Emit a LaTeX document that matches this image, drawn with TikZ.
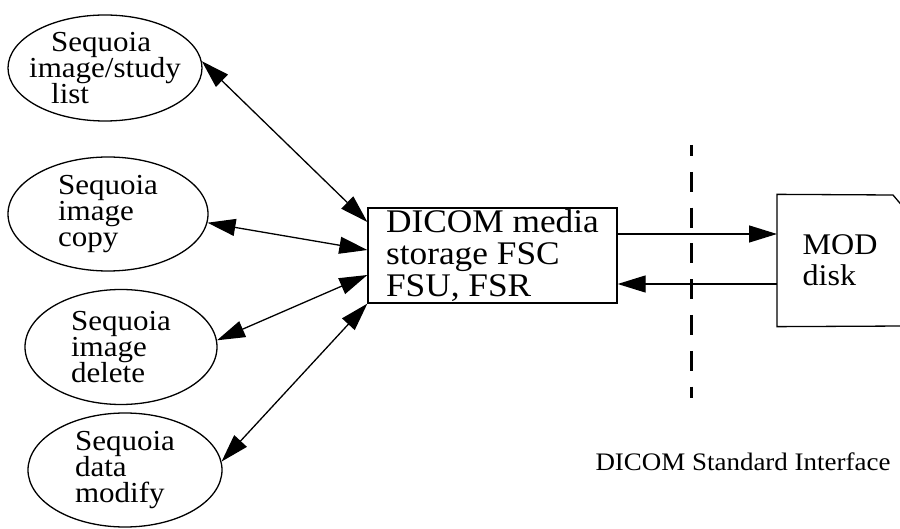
\documentclass[tikz,border=0pt]{standalone}
\usepackage{fontspec}
\setmainfont[FakeStretch=1.07]{Liberation Serif}
\usetikzlibrary{shapes.geometric,arrows.meta}
\setlength{\lineskiplimit}{-20pt}

\begin{document}
\begin{tikzpicture}[
        x=0.5pt, y=-0.5pt,
        line width=0.65pt,
        arw/.style={-{Triangle[length=14pt,width=8.5pt]}},
        dbl/.style={{Triangle[length=14pt,width=8.5pt]}-{Triangle[length=14pt,width=8.5pt]}},
        app/.style={draw, ellipse, inner sep=-10pt, align=left,
          font=\fontsize{14.5pt}{13pt}\selectfont},
        sep/.style={line width=1.5pt, dash pattern=on 10pt off 7.9pt, dash phase=4.5pt}
      ]
        % 画布范围
        \useasboundingbox (0,0) rectangle (900,529);
        \clip (0,0) rectangle (900,529);
        % 定义左侧四个椭圆
        \node[app, minimum width=97pt, minimum height=53pt] (list) at (105,68)
          {\hspace*{11pt}Sequoia\\image/study\\\hspace*{11pt}list};
        \node[app, minimum width=100pt, minimum height=57pt] (copy) at (108,214)
          {Sequoia\\image\\copy};
        \node[app, minimum width=96pt, minimum height=57.5pt] (delete) at (121,347)
          {Sequoia\\image\\delete};
        \node[app, minimum width=97pt, minimum height=57pt] (modify) at (125,470)
          {Sequoia\\data\\modify};
        % 定义中间矩形
        \node[draw, minimum width=124.5pt, minimum height=47.5pt, inner sep=0pt,
          align=left, font=\fontsize{16.5pt}{16pt}\selectfont]
          (fsc) at (492.5,255.5) {DICOM media\\storage FSC\\FSU, FSR};
        % 定义右侧磁盘
        \node[anchor=west, minimum height=65.5pt, inner xsep=12.5pt, inner ysep=0pt,
          align=left, font=\fontsize{15pt}{15.5pt}\selectfont]
          (mod) at (777,260.5) {MOD\\disk};
        \draw (904,208) -- (893,195) -- (mod.north west) -- (mod.south west) -- (905,326);
        % 绘制分界虚线
        \coordinate (dtop) at (691,145);
        \coordinate (dbot) at (691,398);
        \draw[sep] (dtop) -- (dbot);
        % 绘制双向箭头
        \draw[dbl] (list.4) -- ([yshift=16.75pt]fsc.west);
        \draw[dbl] (copy.-5) -- ([yshift=2.75pt]fsc.west);
        \draw[dbl] (delete.4) -- ([yshift=-9.75pt]fsc.west);
        \draw[dbl] (modify.5) -- (fsc.south west);
        % 绘制左右箭头
        \draw[arw] ([yshift=10.75pt]fsc.east) -- ([yshift=10.75pt]fsc.east -| mod.west);
        \draw[arw] ([yshift=-14.25pt]fsc.east -| mod.west) -- ([yshift=-14.25pt]fsc.east);
        % 标记接口
        \node[font=\fontsize{12.6pt}{15pt}\selectfont] (iface) at (743,462)
          {DICOM Standard Interface};
      \end{tikzpicture}
\end{document}
